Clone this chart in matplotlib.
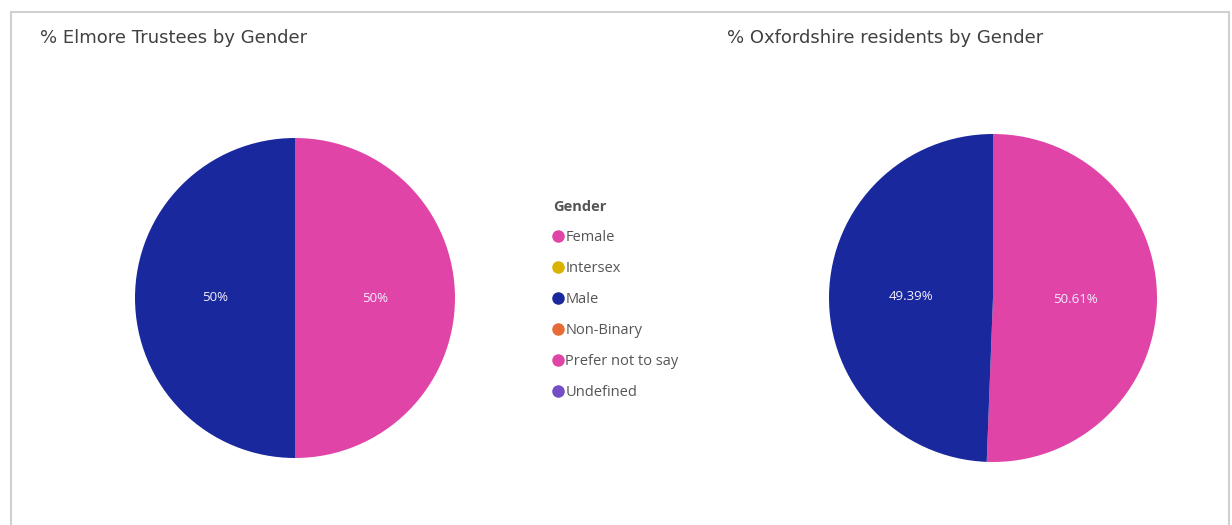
import matplotlib
matplotlib.use("Agg")
import matplotlib.pyplot as plt
from matplotlib.lines import Line2D
from matplotlib.patches import Rectangle

# data
trustee_labels = ["Female", "Male"]
trustee_values = [50, 50]
oxon_labels = ["Female", "Male"]
oxon_values = [50.61, 49.39]

legend_labels = ["Female", "Intersex", "Male", "Non-Binary", "Prefer not to say", "Undefined"]
legend_colors = ["#E044A7", "#D9B300", "#1A289E", "#E66C37", "#E044A7", "#744EC2"]
slice_colors = {"Female": "#E044A7", "Male": "#1A289E"}

W, H = 1232, 525
fig = plt.figure(figsize=(W / 100, H / 100), dpi=100)
fig.patch.set_facecolor("white")

# card border
fig.patches.append(Rectangle((11 / W, -0.05), (1229 - 11) / W, 1 - 12 / H + 0.05,
                             transform=fig.transFigure, fill=False,
                             edgecolor="#d0d0d0", linewidth=1.5))


def pie_axes(cx, cy, r):
    return fig.add_axes([(cx - r) / W, 1 - (cy + r) / H, 2 * r / W, 2 * r / H])


def draw_pie(ax, labels, values, fmt):
    ax.pie(values, colors=[slice_colors[l] for l in labels], startangle=90,
           counterclock=False, radius=1, autopct=fmt, pctdistance=0.5,
           textprops=dict(color="#f4f0ff", fontsize=9.5, family="Open Sans"),
           wedgeprops=dict(linewidth=0))
    ax.set_xlim(-1, 1)
    ax.set_ylim(-1, 1)
    ax.axis("off")


ax1 = pie_axes(295, 298, 160)
draw_pie(ax1, trustee_labels, trustee_values, lambda p: f"{p:.0f}%")

ax2 = pie_axes(993, 298, 164)
draw_pie(ax2, oxon_labels, oxon_values, lambda p: f"{p:.2f}%")

# titles
fig.text(40 / W, 1 - 38 / H, "% Elmore Trustees by Gender", fontsize=13,
         color="#404040", family="DejaVu Sans", va="center", ha="left")
fig.text(727 / W, 1 - 38 / H, "% Oxfordshire residents by Gender", fontsize=13,
         color="#404040", family="DejaVu Sans", va="center", ha="left")

# legend
handles = [Line2D([], [], marker="o", linestyle="", markersize=8,
                  markerfacecolor=c, markeredgecolor=c) for c in legend_colors]
leg = fig.legend(handles, legend_labels, title="Gender", loc="upper left",
                 bbox_to_anchor=(553 / W, 1 - 200 / H), frameon=False,
                 handlelength=0.7, handletextpad=0.15, labelspacing=1.1,
                 borderpad=0, borderaxespad=0,
                 prop=dict(family="Open Sans", size=10.5),
                 title_fontproperties=dict(family="Open Sans", size=10.5, weight="bold"))
leg._legend_box.align = "left"
for t in leg.get_texts():
    t.set_color("#555555")
leg.get_title().set_color("#555555")

fig.savefig("out.png", dpi=100)
